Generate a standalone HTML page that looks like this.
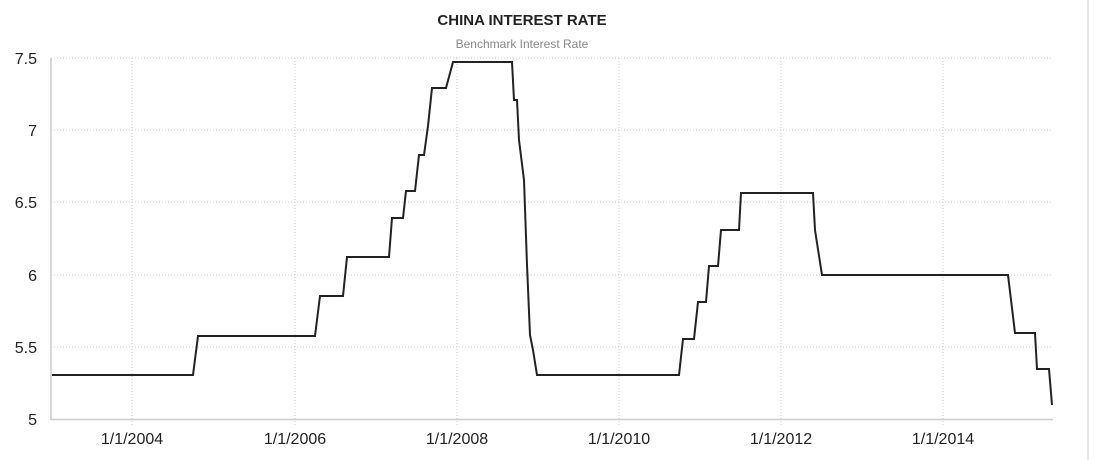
<!DOCTYPE html>
<html><head><style>body{margin:0;background:#fff}svg{display:block}</style></head><body>
<svg width="1094" height="460" xmlns="http://www.w3.org/2000/svg" font-family="Liberation Sans, sans-serif">
<rect width="1094" height="460" fill="#fff"/>
<line x1="1088" y1="0" x2="1088" y2="460" stroke="#ddd" stroke-width="1.5"/>
<text x="522" y="25" text-anchor="middle" font-size="15" font-weight="bold" fill="#222">CHINA INTEREST RATE</text>
<text x="522" y="48" text-anchor="middle" font-size="12" fill="#888">Benchmark Interest Rate</text>
<g stroke="#ccc" stroke-dasharray="1,2" stroke-width="1">
<line x1="51" y1="58" x2="1053" y2="58"/><line x1="51" y1="130" x2="1053" y2="130"/><line x1="51" y1="202" x2="1053" y2="202"/><line x1="51" y1="275" x2="1053" y2="275"/><line x1="51" y1="347" x2="1053" y2="347"/>
<line x1="132" y1="58" x2="132" y2="425"/><line x1="295" y1="58" x2="295" y2="425"/><line x1="457" y1="58" x2="457" y2="425"/><line x1="619" y1="58" x2="619" y2="425"/><line x1="781" y1="58" x2="781" y2="425"/><line x1="943" y1="58" x2="943" y2="425"/>
</g>
<line x1="51" y1="419.5" x2="1053" y2="419.5" stroke="#ccc" stroke-width="1.5"/>
<line x1="51" y1="58" x2="51" y2="420" stroke="#ccc" stroke-width="1.5"/>
<g font-size="16" fill="#222" text-anchor="end">
<text x="37" y="64">7.5</text><text x="37" y="136">7</text><text x="37" y="208">6.5</text><text x="37" y="281">6</text><text x="37" y="353">5.5</text><text x="37" y="425">5</text>
</g>
<g font-size="16" fill="#222" text-anchor="middle">
<text x="132" y="444">1/1/2004</text><text x="295" y="444">1/1/2006</text><text x="457" y="444">1/1/2008</text><text x="619" y="444">1/1/2010</text><text x="781" y="444">1/1/2012</text><text x="943" y="444">1/1/2014</text>
</g>
<polyline fill="none" stroke="#222" stroke-width="2" points="52,375 193,375 198,336 315,336 320,296 343,296 347,257 389,257 392,218 403,218 406,191 415,191 419,155 424,155 428,126 432,88 446,88 453,62 512,62 514,100 517,100 519,140 524,180 527,265 530,335 533,350 537,375 679,375 683,339 694,339 698,302 706,302 709,266 718,266 721,230 739,230 741,193 813,193 815,230 822,275 1008,275 1015,333 1035,333 1037,369 1049,369 1052,405"/>
</svg>
</body></html>
